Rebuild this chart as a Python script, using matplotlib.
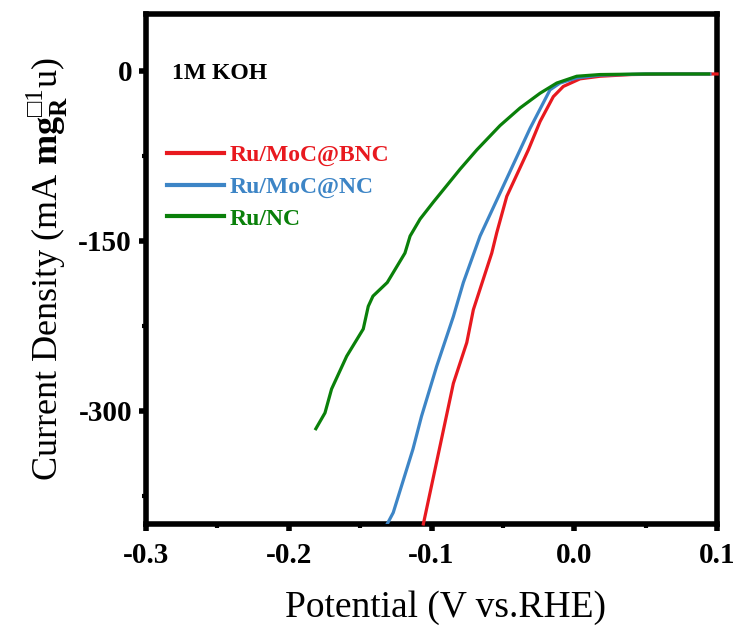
import numpy as np
import matplotlib
matplotlib.use('Agg')
import matplotlib.pyplot as plt

plt.rcParams['font.family'] = ['Liberation Serif', 'DejaVu Sans']
plt.rcParams['mathtext.fontset'] = 'custom'
plt.rcParams['mathtext.rm'] = 'Liberation Serif'
plt.rcParams['mathtext.bf'] = 'Liberation Serif:bold'
plt.rcParams['mathtext.fallback'] = 'stixsans'

# データ
bnc_x = [-0.1057, -0.094, -0.0847, -0.0753, -0.0707, -0.0578, -0.0543, -0.0473,
         -0.0322, -0.024, -0.0147, -0.0077, 0.004, 0.018, 0.04, 0.07, 0.1]
bnc_y = [-400, -331, -276, -240, -211, -161, -143, -111,
         -70, -45, -23, -14, -7.3, -5, -3.5, -3, -3]

nc_x = [-0.131, -0.1268, -0.113, -0.107, -0.0964, -0.0847, -0.0777, -0.066, -0.052,
        -0.038, -0.031, -0.024, -0.017, -0.010, 0.0017, 0.018, 0.05, 0.095]
nc_y = [-400, -390, -334, -305, -261, -217, -187, -146, -108,
        -70, -51, -34, -17, -11, -6.5, -4, -3, -3]

runc_x = [-0.181, -0.1746, -0.17, -0.1594, -0.1478, -0.1443, -0.141, -0.131, -0.1186,
          -0.115, -0.108, -0.0987, -0.080, -0.0683, -0.052, -0.038, -0.024, -0.0123,
          0.0017, 0.018, 0.05, 0.094]
runc_y = [-316, -302, -281, -252, -228, -208, -199, -187, -161,
          -146, -131, -116, -87, -70, -48.5, -33, -20, -11,
          -5, -3.5, -3, -3]

fig = plt.figure(figsize=(7.37, 6.32), dpi=100)
ax = fig.add_axes([0.198, 0.171, 0.775, 0.807])

ax.plot(bnc_x, bnc_y, color='#E8191F', lw=2.3, label='Ru/MoC@BNC', clip_on=False, zorder=3)
ax.plot(nc_x, nc_y, color='#3D85C6', lw=2.3, label='Ru/MoC@NC', zorder=3)
ax.plot(runc_x, runc_y, color='#0A800A', lw=2.3, label='Ru/NC', zorder=3)

ax.set_xlim(-0.3, 0.1)
ax.set_ylim(-400, 50)
ax.set_xticks([-0.3, -0.2, -0.1, 0.0, 0.1])
ax.set_xticks([-0.25, -0.15, -0.05, 0.05], minor=True)
ax.set_yticks([0, -150, -300])
ax.set_yticks([-75, -225, -375], minor=True)
ax.set_xticklabels(['-0.3', '-0.2', '-0.1', '0.0', '0.1'])
ax.set_yticklabels(['0', '-150', '-300'])

for s in ax.spines.values():
    s.set_linewidth(4)
ax.tick_params(which='major', direction='out', length=5, width=4, labelsize=21, pad=5)
ax.tick_params(axis='x', which='major', pad=8)
ax.tick_params(which='minor', direction='out', length=3, width=3)
for lab in ax.get_xticklabels() + ax.get_yticklabels():
    lab.set_fontweight('bold')

ax.set_xlabel('Potential (V vs.RHE)', fontsize=27, labelpad=16)
ax.xaxis.set_label_coords(0.525, -0.13)
ax.set_ylabel('Current Density (mA $\\mathbf{mg}_{\\mathbf{R}}^{\u25a11}$u)', fontsize=26, labelpad=6)

ax.text(0.045, 0.884, '1M KOH', transform=ax.transAxes, fontsize=17, fontweight='bold', va='center')

leg = ax.legend(loc='upper left', bbox_to_anchor=(0.0, 0.785), frameon=False,
                prop={'weight': 'bold', 'size': 17}, labelcolor='linecolor',
                handlelength=2.4, handletextpad=0.25, labelspacing=0.42)
for h in leg.get_lines():
    h.set_linewidth(3)

fig.savefig('out.png', dpi=100)
